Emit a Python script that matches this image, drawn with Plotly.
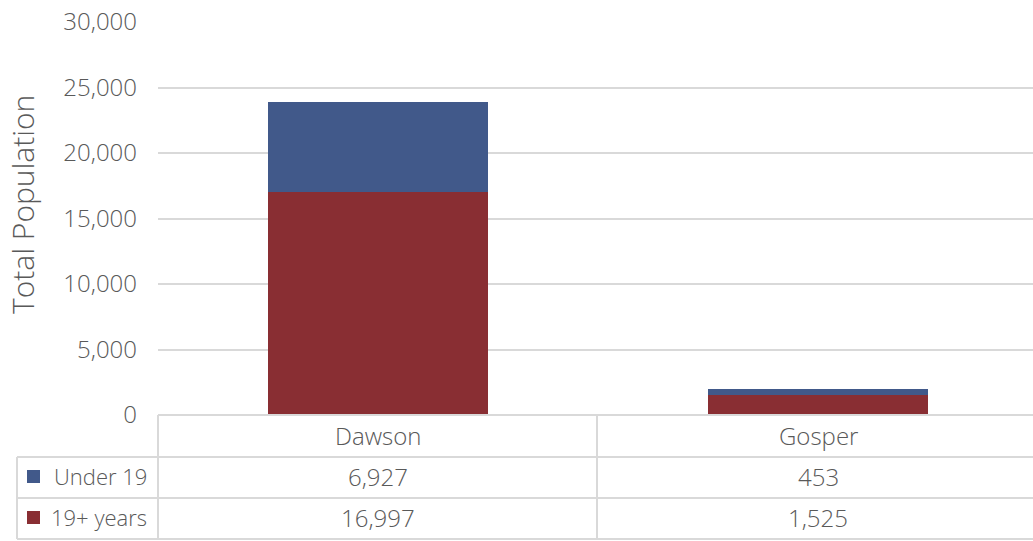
import plotly.graph_objects as go

counties = ["Dawson", "Gosper"]
series_names = ["Under 19", "19+ years"]
under_19 = [6927, 453]
adults_19_plus = [16997, 1525]
y_ticks = [0, 5000, 10000, 15000, 20000, 25000, 30000]

W, H = 1033, 541
L, R, T, B = 158, 0, 22, 126
PW, PH = W - L - R, H - T - B
CAT_W = 440  # pixels per category (plot area runs past the right edge)

BLUE = "#41598A"
RED = "#892E33"
GRID = "#D9D9D9"
TXT = "#595959"
FONT = "'Open Sans', sans-serif"
WT = 300


def px(x):
    return (x - L) / PW


def py(y):
    return (H - B - y) / PH


fig = go.Figure()
fig.add_trace(go.Bar(x=counties, y=adults_19_plus, name=series_names[1],
                     marker=dict(color=RED, line=dict(width=0)), width=0.502))
fig.add_trace(go.Bar(x=counties, y=under_19, name=series_names[0],
                     marker=dict(color=BLUE, line=dict(width=0)), width=0.502))

shapes = []
line = dict(color=GRID, width=2)
# data table borders
for y, x0 in [(415, 158), (457, 17), (498, 17), (539, 17)]:
    shapes.append(dict(type="line", xref="paper", yref="paper",
                       x0=px(x0), x1=px(W), y0=py(y), y1=py(y), line=line))
for x, y0 in [(17, 457), (158, 415), (158 + CAT_W - 1, 415)]:
    shapes.append(dict(type="line", xref="paper", yref="paper",
                       x0=px(x), x1=px(x), y0=py(y0), y1=py(539), line=line))

annotations = []
cell = dict(xref="paper", yref="paper", showarrow=False, xanchor="center",
            yanchor="middle", font=dict(size=24, color=TXT, weight=WT))
row_y = {"cat": 435, series_names[0]: 476, series_names[1]: 517}
col_x = [px(158 + CAT_W / 2 + i * CAT_W) for i in range(len(counties))]
for i, c in enumerate(counties):
    annotations.append(dict(cell, x=col_x[i], y=py(row_y["cat"]), text=c))
for name, vals, col in [(series_names[0], under_19, BLUE), (series_names[1], adults_19_plus, RED)]:
    yy = row_y[name]
    shapes.append(dict(type="rect", xref="paper", yref="paper", x0=px(27), x1=px(40),
                       y0=py(yy - 6), y1=py(yy + 7), fillcolor=col, line=dict(width=0)))
    annotations.append(dict(cell, x=px(149), y=py(yy), text=name, xanchor="right",
                            font=dict(size=22, color=TXT, weight=WT)))
    for i, v in enumerate(vals):
        annotations.append(dict(cell, x=col_x[i], y=py(yy), text=f"{v:,}"))

annotations.append(dict(cell, x=px(22), y=py(205), text="Total Population",
                        textangle=-90, font=dict(size=30, color=TXT, weight=WT)))

fig.update_layout(
    width=W, height=H,
    margin=dict(l=L, r=R, t=T, b=B),
    barmode="stack",
    showlegend=False,
    plot_bgcolor="white", paper_bgcolor="white",
    font=dict(family=FONT, color=TXT, size=24),
    xaxis=dict(range=[-0.5, -0.5 + PW / CAT_W], showticklabels=False,
               showgrid=False, zeroline=False, showline=False),
    yaxis=dict(range=[0, 30000], tickvals=y_ticks, tickformat=",", showgrid=True,
               gridcolor=GRID, gridwidth=2, zeroline=False, showline=False,
               ticklabelstandoff=20, tickfont=dict(size=24, color=TXT, weight=WT)),
    shapes=shapes,
    annotations=annotations,
)

fig.write_html("out.html", config={"displayModeBar": False},
               post_script="document.body.style.margin='0';")
